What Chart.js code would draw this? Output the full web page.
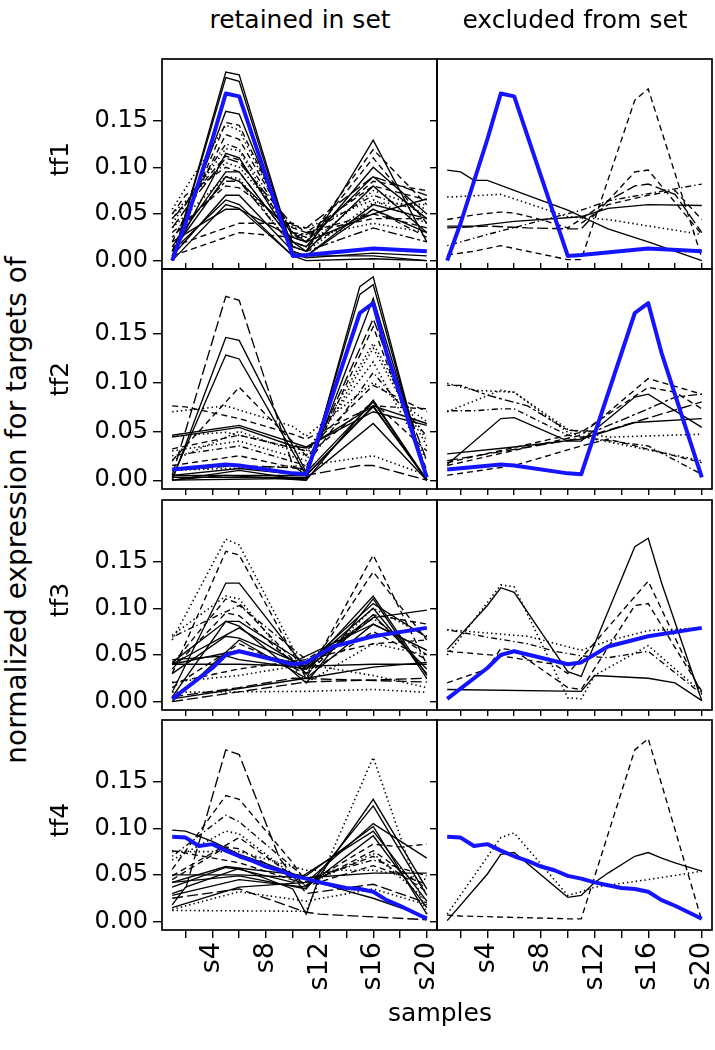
<!DOCTYPE html>
<html lang="en">

<head>
    <meta charset="UTF-8">
    <title>normalized expression for targets of tf1-tf4</title>
    <script src="https://cdn.jsdelivr.net/npm/chart.js"></script>
    <style>
        body {
            margin: 0;
            width: 715px;
            height: 1050px;
            overflow: hidden;
            position: relative;
            background: #fff;
            font-family: "DejaVu Sans", sans-serif;
        }

        canvas {
            position: absolute;
        }

        .lbl {
            position: absolute;
            white-space: nowrap;
            color: #000;
            font-size: 25px;
            line-height: 1;
            transform: translate(-50%, -50%);
        }

        .vert {
            transform: translate(-50%, -50%) rotate(-90deg);
        }
    </style>
</head>

<body>
    <div id="wrap"></div>

    <div class="lbl" style="left:300px; top:19px;">retained in set</div>
    <div class="lbl" style="left:575px; top:19px;">excluded from set</div>
    <div class="lbl vert" style="left:59px; top:159px;">tf1</div>
    <div class="lbl vert" style="left:59px; top:379px;">tf2</div>
    <div class="lbl vert" style="left:59px; top:600px;">tf3</div>
    <div class="lbl vert" style="left:59px; top:820px;">tf4</div>
    <div class="lbl vert" style="left:17px; top:510px; font-size:28px;">normalized expression for targets of</div>
    <div class="lbl" style="left:440px; top:1012px;">samples</div>

    <script>
        const _ = null;

        // samples and axis ticks
        const samples = ['s1', 's2', 's3', 's4', 's5', 's6', 's7', 's8', 's9', 's10',
            's11', 's12', 's13', 's14', 's15', 's16', 's17', 's18', 's19', 's20'];
        const xTickValues = [2, 4, 6, 8, 10, 12, 14, 16, 18, 20];
        const xTickLabels = ['s4', 's8', 's12', 's16', 's20'];
        const yTickValues = [0, 0.05, 0.10, 0.15];

        // all values are x1000, read at the points where the lines bend (null = no reading)
        // tf profiles (blue)
        const tf1Profile = [0, 40, 85, 130, 179, 176, _, _, _, 5, 6, _, _, _, _, 13, _, _, _, 10];
        const tf2Profile = [11, _, _, _, 16, 15, _, _, _, 7, 6, _, _, _, 171, 181, 130, _, _, 3];
        const tf3Profile = [3, _, _, 36, 50, 54, _, _, _, 40, 42, _, 59, _, _, 70, _, _, _, 79];
        const tf4Profile = [91, 90, 81, 83, 76, 70, 65, 59, 55, 49, 46, 42, 39, 36, 35, 32, 23, 17, 10, 3];

        // targets kept in the set
        const tf1Retained = [
            [0, _, _, _, 202, 199, _, _, _, 10, 5, _, _, _, _, 5, _, _, _, 0],
            [0, _, _, _, 196, 192, _, _, _, 8, 3, _, _, _, _, 8, _, _, _, 5],
            [5, _, _, _, 160, 157, _, _, _, 15, 10, _, _, _, _, 129, _, _, _, 20],
            [10, _, _, _, 148, 145, _, _, _, 25, 20, _, _, _, _, 119, _, _, _, 60],
            [55, _, _, _, 145, 140, _, _, _, 25, 25, _, _, _, _, 40, _, _, _, 30],
            [20, _, _, _, 135, 130, _, _, _, 30, 25, _, _, _, _, 85, _, _, _, 75],
            [45, 60, _, _, 125, 120, _, _, _, 30, 28, _, _, _, _, 70, _, _, _, 50],
            [40, _, _, _, 120, 118, _, _, _, 20, 15, _, _, _, _, 75, _, _, _, 55],
            [5, _, _, _, 115, 110, _, _, _, 20, 10, _, _, _, _, 80, _, _, _, 30],
            [35, 55, _, _, 110, 105, _, _, _, 38, 35, _, _, _, _, 90, _, _, _, 70],
            [50, _, _, _, 105, 100, _, _, _, 35, 35, _, _, _, _, 65, _, _, _, 40],
            [50, 70, _, _, 100, 95, _, _, _, 20, 15, _, _, _, _, 55, _, _, _, 25],
            [15, _, _, _, 95, 95, _, _, _, 20, 15, _, _, _, _, 100, _, _, _, 50],
            [10, _, _, _, 90, 85, _, _, _, 30, 20, _, _, _, _, 90, _, _, _, 45],
            [25, _, _, _, 85, 85, _, _, _, 15, 10, _, _, _, _, 35, _, _, _, 20],
            [30, _, _, _, 80, 78, _, _, _, 35, 30, _, _, _, _, 80, _, _, _, 65],
            [5, _, _, _, 70, 70, _, _, _, 10, 5, _, _, _, _, 55, _, _, _, 30],
            [10, _, _, _, 65, 60, _, _, _, 5, 0, _, _, _, _, 2, _, _, _, 0],
            [0, _, _, _, 60, 56, _, _, _, 5, 5, _, _, _, _, 60, _, _, _, 45],
            [20, _, _, _, 55, 55, _, _, _, 25, 20, _, _, _, _, 50, _, _, _, 66],
            [15, _, _, _, _, 40, _, _, _, 40, 30, _, _, _, _, 50, _, _, _, 35],
            [5, _, _, _, _, 30, _, _, _, 25, 30, _, _, _, _, 45, _, _, _, 45],
            [45, _, _, _, 112, 108, _, _, _, 28, 20, _, _, _, _, 110, _, _, _, 40],
            [35, _, _, _, 90, 88, _, _, _, 15, 10, _, _, _, _, 62, _, _, _, 60]
        ];
        const tf1RetainedLty = ['solid', 'solid', 'solid', 'dashed', 'dotted', 'dashed', 'dotdash', 'dotted',
            'solid', 'longdash', 'dotted', 'dashed', 'solid', 'solid', 'twodash', 'dashed', 'solid', 'solid',
            'solid', 'solid', 'dashed', 'dashed', 'dashed', 'dotted'];

        const tf2Retained = [
            [5, _, _, _, 188, 184, _, _, _, 15, 5, _, _, _, 15, 15, _, _, _, 0],
            [0, _, _, _, 146, 143, _, _, _, _, 8, _, _, _, _, 80, _, _, _, 0],
            [2, _, _, _, 128, 124, _, _, _, _, 5, _, _, _, _, 76, _, _, _, 0],
            [20, _, _, _, _, 95, _, _, _, _, 25, _, _, _, _, 80, _, _, _, 30],
            [46, _, _, _, _, 56, _, _, _, _, 34, _, _, _, _, 70, _, _, _, 56],
            [76, 75, _, _, _, 63, _, _, _, 47, 42, _, _, _, _, 76, _, _, _, 73],
            [45, _, _, _, 49, _, _, _, _, _, 30, _, _, _, _, 121, _, _, _, 20],
            [0, _, _, _, 5, _, _, _, _, _, 0, _, _, _, 198, 208, _, _, _, 0],
            [3, _, _, _, _, _, _, _, _, _, 3, _, _, _, 190, 200, _, _, _, 0],
            [5, _, _, _, _, _, _, _, _, _, 5, _, _, _, _, 186, _, _, _, 5],
            [15, _, _, _, _, 25, _, _, _, _, 10, _, _, _, _, 157, _, _, _, 10],
            [30, _, _, _, _, 40, _, _, _, _, 20, _, _, _, _, 135, _, _, _, 35],
            [25, _, _, _, _, 35, _, _, _, _, 15, _, _, _, _, 110, _, _, _, 45],
            [0, _, _, _, _, 10, _, _, _, _, 0, _, _, _, _, 82, _, _, _, 0],
            [5, _, _, _, _, 12, _, _, _, _, 5, _, _, _, _, 75, _, _, _, 0],
            [0, _, _, _, _, _, _, _, _, _, 2, _, _, _, _, 58, _, _, _, 0],
            [10, _, _, _, _, _, _, _, _, _, 15, _, _, _, _, 25, _, _, _, 5],
            [70, _, _, _, 76, _, _, _, _, 55, 45, _, _, _, _, 100, _, _, _, 60],
            [32, _, _, _, _, 46, _, _, _, _, 30, _, _, _, _, 97, _, _, _, 70],
            [44, _, _, _, _, 54, _, _, _, 35, 33, _, _, _, _, 76, _, _, _, 58],
            [20, _, _, _, _, 50, _, _, _, _, 25, _, _, _, _, 140, _, _, _, 40],
            [10, _, _, _, _, 15, _, _, _, _, 12, _, _, _, _, 165, _, _, _, 20]
        ];
        const tf2RetainedLty = ['longdash', 'solid', 'solid', 'dashed', 'solid', 'dashed', 'dotted', 'solid',
            'solid', 'solid', 'dashed', 'dotted', 'dotdash', 'solid', 'solid', 'solid', 'dotted', 'dotted',
            'dashed', 'solid', 'dotted', 'longdash'];

        const tf3Retained = [
            [66, _, _, _, 174, 168, _, _, _, _, 30, _, _, _, _, 100, _, _, _, 70],
            [30, _, _, _, 161, 157, _, _, _, _, 25, _, _, _, _, 157, _, _, _, 40],
            [10, _, _, _, 127, 127, _, _, _, _, 35, _, _, _, _, 113, _, _, _, 28],
            [40, _, _, _, 110, 105, _, _, _, _, 30, _, _, _, _, 139, _, _, _, 66],
            [42, _, _, _, 86, 86, _, _, _, _, 40, _, _, _, _, 105, _, _, _, 69],
            [40, _, _, _, _, 79, _, _, _, _, 35, _, _, _, _, 90, _, _, _, 98],
            [69, 76, _, _, _, 103, _, _, _, _, 45, _, _, _, _, 89, _, _, _, 50],
            [45, _, _, _, 49, 45, _, _, _, _, 35, _, _, _, _, 93, _, _, _, 35],
            [40, _, _, _, _, 40, _, _, _, _, 38, _, _, _, _, 40, _, _, _, 40],
            [3, _, _, _, _, _, _, _, _, _, 25, _, _, _, _, 37, _, _, _, 42],
            [5, _, _, _, _, 15, _, _, _, 25, _, _, _, _, _, _, _, _, _, 21],
            [10, _, _, _, _, _, _, _, _, _, 11, _, _, _, _, 13, _, _, _, 10],
            [5, _, _, _, 86, 81, _, _, _, _, 20, _, _, _, _, 110, _, _, _, 25],
            [15, _, _, _, _, 62, _, _, _, _, 30, _, _, _, _, 93, _, _, _, 83],
            [0, _, _, _, _, 66, _, _, _, _, 25, _, _, _, _, 83, _, _, _, 55],
            [71, _, _, _, 113, 110, _, _, _, _, 20, _, _, _, _, 62, _, _, _, 50],
            [20, _, _, _, _, 35, _, _, _, _, 45, _, _, _, _, 62, _, _, _, 66],
            [0, _, _, _, _, _, _, _, _, _, 21, _, _, _, _, _, _, _, _, 25],
            [40, _, _, _, _, 55, _, _, _, 42, _, _, _, _, _, 83, _, _, _, 55],
            [21, _, _, _, _, 28, _, _, _, _, 40, _, _, _, _, 28, _, _, _, 15],
            [35, _, _, _, 95, 92, _, _, _, _, 30, _, _, _, _, 75, _, _, _, 45],
            [30, _, _, _, 70, 68, _, _, _, _, 38, _, _, _, _, 100, _, _, _, 30]
        ];
        const tf3RetainedLty = ['dotted', 'dashed', 'solid', 'dashed', 'solid', 'solid', 'dotdash', 'solid',
            'solid', 'solid', 'longdash', 'dotted', 'solid', 'dashed', 'solid', 'dotted', 'dashed', 'longdash',
            'solid', 'dotted', 'dashed', 'solid'];

        const tf4Retained = [
            [30, 35, _, _, 184, 179, _, _, 68, _, 30, _, _, _, _, 40, _, _, _, 20],
            [12, _, _, _, _, _, _, _, _, _, 11, _, _, _, _, 176, _, _, _, 8],
            [98, 97, _, 86, _, 72, _, 62, _, _, 46, _, _, 33, _, 25, _, 15, _, 5],
            [18, 37, _, _, _, 57, _, _, _, 35, 8, 49, _, _, _, 131, _, _, _, 35],
            [42, _, _, _, _, 49, _, _, _, _, 35, _, _, _, _, 124, _, _, _, 28],
            [15, _, _, _, _, 37, _, _, _, _, 42, _, _, _, _, 105, _, _, _, 68],
            [50, _, _, _, _, 50, _, _, _, _, 47, _, _, _, _, 52, _, _, _, 52],
            [76, _, _, _, _, 63, _, _, _, _, 40, _, _, _, _, 83, _, 80, _, 83],
            [56, _, _, _, 135, 131, _, _, _, 63, 42, _, _, _, _, 70, _, _, _, 32],
            [66, _, _, _, 97, 94, _, _, _, _, 39, _, _, _, _, 73, _, _, _, 22],
            [70, _, _, _, 114, 107, _, _, _, _, 46, _, _, _, _, 66, _, _, _, 49],
            [37, _, _, _, 58, 56, _, _, _, 42, _, _, _, _, _, 97, _, _, _, 22],
            [25, _, _, _, _, 35, _, _, _, _, 10, 8, _, _, _, _, _, _, _, 2],
            [42, _, _, _, 59, _, _, _, _, _, 49, _, _, _, _, 102, _, _, _, 8],
            [75, _, _, _, _, 75, _, _, _, _, 55, _, _, _, _, 55, _, _, _, 45],
            [49, _, _, _, _, 90, _, _, _, _, 39, _, _, _, _, 76, _, _, _, 35],
            [28, _, _, _, _, 45, _, _, _, _, 37, _, _, _, _, 92, _, _, _, 15],
            [13, _, _, _, _, 32, _, _, _, _, 22, _, _, _, _, 35, _, _, _, 18],
            [45, _, _, _, 80, 78, _, _, _, _, 38, _, _, _, _, 60, _, _, _, 40]
        ];
        const tf4RetainedLty = ['longdash', 'dotted', 'solid', 'solid', 'solid', 'solid', 'solid', 'dashed',
            'dashed', 'dotted', 'dotdash', 'solid', 'longdash', 'solid', 'dotted', 'dashed', 'solid', 'dotted',
            'dashed'];

        // targets excluded from the set
        const tf1Excluded = [
            [97, 95, 86, 86, _, _, 70, _, _, 54, _, _, 34, _, _, 20, _, _, _, 0],
            [37, _, 37, _, _, 42, _, _, _, _, 47, _, 56, _, _, 60, _, _, _, 59],
            [68, _, _, _, 71, _, _, _, _, 47, _, _, 44, _, _, _, _, _, _, 28],
            [16, _, _, 28, _, _, _, _, _, _, 54, _, 64, _, _, _, _, _, _, 82],
            [44, _, 49, _, 52, 51, _, 44, _, 35, _, _, 64, _, 95, 97, _, _, _, 28],
            [6, _, 10, _, 16, _, 10, _, _, 1, 1, _, _, _, 172, 184, _, _, _, 3],
            [35, _, _, 37, _, _, 35, _, _, 34, 34, _, 64, _, 80, 82, _, 71, _, 30],
            [_, _, _, _, _, _, _, _, _, _, 40, _, 60, _, _, 70, _, 75, _, 44]
        ];
        const tf1ExcludedLty = ['solid', 'solid', 'dotted', 'dotdash', 'dashed', 'dashed', 'longdash', 'dashed'];

        const tf2Excluded = [
            [16, _, _, _, 63, 64, _, _, _, 40, 40, _, _, _, 85, 88, _, _, _, 54],
            [27, _, _, _, _, 34, _, _, _, _, 42, _, _, _, 59, _, _, _, _, 63],
            [15, _, _, _, _, _, _, _, _, _, 46, _, _, _, _, 104, _, _, _, 88],
            [18, _, _, _, _, _, _, _, _, _, 49, _, _, _, _, 95, _, 90, _, 73],
            [20, _, _, _, _, _, _, _, _, _, 43, _, _, _, _, _, _, _, _, 80],
            [99, _, 92, _, _, 90, _, _, _, 52, _, _, 44, _, _, _, _, _, _, 47],
            [70, _, _, _, 92, 90, _, _, _, 49, _, 42, _, _, _, _, _, _, _, 20],
            [71, _, 71, _, 73, 73, _, _, _, 46, _, _, _, _, _, 35, _, _, _, 6],
            [5, _, _, _, _, 15, _, _, _, _, 35, _, 42, _, _, _, _, _, _, 18],
            [97, 97, _, 87, _, _, 76, _, _, 51, _, 50, _, _, _, 73, _, 85, _, 88]
        ];
        const tf2ExcludedLty = ['solid', 'solid', 'dashed', 'dashed', 'longdash', 'dotted', 'dotted', 'dotdash',
            'dashed', 'twodash'];

        const tf3Excluded = [
            [56, _, _, 103, 122, 117, _, _, _, 32, 27, _, _, _, 166, 175, 127, _, _, 1],
            [50, _, _, _, 125, 123, _, _, _, 4, 3, 28, _, _, _, 60, _, _, _, 10],
            [13, _, _, _, _, _, _, _, _, _, 11, 28, _, _, _, 25, _, 20, _, 1],
            [54, _, _, _, 49, _, _, _, 40, 30, _, _, _, _, _, 129, _, _, _, 8],
            [77, _, _, 69, _, _, 62, _, 54, _, 49, _, 47, _, _, 54, _, _, _, 8],
            [20, _, _, 35, 57, 55, _, _, _, 15, 13, _, _, _, 103, 105, _, _, _, 11],
            [77, _, _, _, _, _, 70, _, _, _, 55, _, 65, _, _, 76, _, _, _, 79]
        ];
        const tf3ExcludedLty = ['solid', 'dotted', 'solid', 'dashed', 'dotdash', 'dashed', 'dotted'];

        const tf4Excluded = [
            [1, _, _, 51, 72, 74, _, _, _, 26, 28, 42, 52, _, 70, 74, 68, 63, _, 54],
            [8, _, _, _, 90, 95, _, _, _, 28, 32, 37, _, _, _, 45, _, _, _, 54],
            [7, 6, _, _, _, _, _, _, _, 3, 3, _, _, _, 184, 196, _, _, _, 1]
        ];
        const tf4ExcludedLty = ['solid', 'dotted', 'dashed'];

        // line types like R's lty
        const dashes = {
            solid: [],
            dashed: [6, 4],
            dotted: [1.4, 3],
            dotdash: [1.4, 3, 6, 3],
            longdash: [11, 4],
            twodash: [3, 3, 9, 3]
        };

        // panel geometry (px)
        const colLeft = [162, 437];
        const rowTop = [49, 269, 490, 710];
        const panelW = 275;
        const panelH = 220;

        Chart.defaults.font.family = '"DejaVu Sans", sans-serif';
        Chart.defaults.color = '#000';

        // box round every panel
        const panelFrame = {
            id: 'panelFrame',
            afterDatasetsDraw(chart) {
                const a = chart.chartArea;
                const ctx = chart.ctx;
                ctx.save();
                ctx.strokeStyle = '#000';
                ctx.lineWidth = 1.7;
                ctx.strokeRect(a.left, a.top, a.right - a.left, a.bottom - a.top);
                ctx.restore();
            }
        };

        function toPoints(values) {
            return values.map((v, i) => ({ x: i + 1, y: v === null ? null : v / 1000 }))
                .filter(p => p.y !== null);
        }

        function makePanel(col, row, lines, ltys, profile) {
            const leftAxisW = col === 0 ? 122 : 10;
            const rightPad = col === 0 ? 10 : 3;
            const bottomH = row === 3 ? 82 : 10;
            const hasTop = row === 1;

            const canvas = document.createElement('canvas');
            canvas.width = leftAxisW + panelW + rightPad;
            canvas.height = 10 + panelH + bottomH;
            canvas.style.left = (colLeft[col] - leftAxisW) + 'px';
            canvas.style.top = (rowTop[row] - 10) + 'px';
            document.getElementById('wrap').appendChild(canvas);

            const datasets = lines.map((vals, i) => ({
                data: toPoints(vals),
                borderColor: '#000',
                borderWidth: ltys[i] === 'dotted' ? 1.6 : 1.35,
                borderDash: dashes[ltys[i]],
                order: 1
            }));
            datasets.push({
                data: toPoints(profile),
                borderColor: '#1414ff',
                borderWidth: 4,
                borderJoinStyle: 'round',
                order: 0
            });

            const tickGrid = len => ({
                display: true,
                drawOnChartArea: false,
                drawTicks: len > 0,
                tickLength: len,
                color: '#000',
                lineWidth: 1.4
            });

            new Chart(canvas, {
                type: 'line',
                data: { datasets },
                options: {
                    responsive: false,
                    animation: false,
                    events: [],
                    layout: { padding: { left: 0, right: rightPad, top: hasTop ? 0 : 10, bottom: 0 } },
                    plugins: { legend: { display: false }, tooltip: { enabled: false } },
                    elements: { point: { radius: 0 }, line: { tension: 0 } },
                    spanGaps: true,
                    scales: {
                        x: {
                            type: 'linear',
                            position: 'bottom',
                            min: 0.24,
                            max: 20.76,
                            border: { display: false },
                            grid: tickGrid(row === 0 ? 0 : (row === 3 ? 8 : 6)),
                            afterBuildTicks: s => { s.ticks = xTickValues.map(v => ({ value: v })); },
                            afterFit: s => { s.height = bottomH; s.paddingLeft = 0; s.paddingRight = 0; },
                            ticks: {
                                display: row === 3,
                                autoSkip: false,
                                minRotation: 90,
                                maxRotation: 90,
                                padding: 4,
                                font: { size: 27 },
                                callback: v => xTickLabels.includes(samples[v - 1]) ? samples[v - 1] : ''
                            }
                        },
                        xTop: {
                            type: 'linear',
                            position: 'top',
                            display: hasTop,
                            min: 0.24,
                            max: 20.76,
                            border: { display: false },
                            grid: tickGrid(6),
                            afterBuildTicks: s => { s.ticks = xTickValues.map(v => ({ value: v })); },
                            afterFit: s => { s.height = 10; s.paddingLeft = 0; s.paddingRight = 0; },
                            ticks: { display: false }
                        },
                        y: {
                            min: -0.009,
                            max: 0.216,
                            border: { display: false },
                            grid: tickGrid(col === 0 ? 9 : 7),
                            afterBuildTicks: s => { s.ticks = yTickValues.map(v => ({ value: v })); },
                            afterFit: s => { s.width = leftAxisW; s.paddingTop = 0; s.paddingBottom = 0; },
                            ticks: {
                                display: col === 0,
                                padding: 5,
                                font: { size: 24 },
                                callback: v => v.toFixed(2)
                            }
                        }
                    }
                },
                plugins: [panelFrame]
            });
        }

        makePanel(0, 0, tf1Retained, tf1RetainedLty, tf1Profile);
        makePanel(1, 0, tf1Excluded, tf1ExcludedLty, tf1Profile);
        makePanel(0, 1, tf2Retained, tf2RetainedLty, tf2Profile);
        makePanel(1, 1, tf2Excluded, tf2ExcludedLty, tf2Profile);
        makePanel(0, 2, tf3Retained, tf3RetainedLty, tf3Profile);
        makePanel(1, 2, tf3Excluded, tf3ExcludedLty, tf3Profile);
        makePanel(0, 3, tf4Retained, tf4RetainedLty, tf4Profile);
        makePanel(1, 3, tf4Excluded, tf4ExcludedLty, tf4Profile);
    </script>
</body>

</html>
